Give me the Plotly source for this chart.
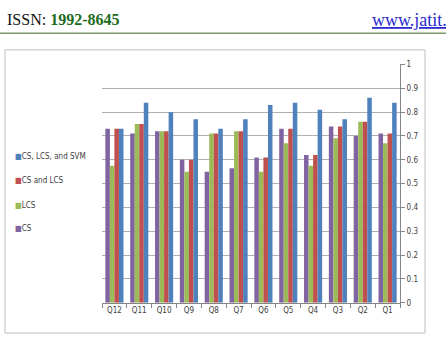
import plotly.graph_objects as go

categories = ["Q12", "Q11", "Q10", "Q9", "Q8", "Q7", "Q6", "Q5", "Q4", "Q3", "Q2", "Q1"]
cs = [0.73, 0.71, 0.72, 0.60, 0.55, 0.565, 0.61, 0.73, 0.62, 0.74, 0.70, 0.71]
lcs = [0.575, 0.75, 0.72, 0.55, 0.71, 0.72, 0.55, 0.67, 0.575, 0.69, 0.76, 0.67]
cs_lcs = [0.73, 0.75, 0.72, 0.60, 0.71, 0.72, 0.61, 0.73, 0.62, 0.74, 0.76, 0.71]
cs_lcs_svm = [0.73, 0.84, 0.80, 0.77, 0.73, 0.77, 0.83, 0.84, 0.81, 0.77, 0.86, 0.84]
y_ticks = [0, 0.1, 0.2, 0.3, 0.4, 0.5, 0.6, 0.7, 0.8, 0.9, 1]

series = [
    ("CS", cs, "#8064A2"),
    ("LCS", lcs, "#9BBB59"),
    ("CS and LCS", cs_lcs, "#C0504D"),
    ("CS, LCS, and SVM", cs_lcs_svm, "#4F81BD"),
]

W, H = 446, 340
font_narrow = "DejaVu Sans Condensed, Liberation Sans Narrow, Arial Narrow, sans-serif"

fig = go.Figure()
for name, vals, col in series:
    fig.add_trace(go.Bar(x=categories, y=vals, name=name,
                         marker=dict(color=col, line=dict(width=0))))

def px_x(p):
    return p / W

def px_y(p):
    return 1 - p / H

ymax = 1.004
top_px = 307 - (307 - 63) * ymax

# legend drawn as text entries (top entry = last series)
legend_y_px = [157, 182, 207, 231]
annotations = []
for (name, vals, col), ypx in zip(reversed(series), legend_y_px):
    annotations.append(dict(
        xref="paper", yref="paper", x=px_x(13), y=px_y(ypx), xanchor="left", yanchor="middle",
        text="<span style='color:%s'>■</span>%s" % (col, name), showarrow=False,
        font=dict(family=font_narrow, size=8, color="#404040")))

annotations += [
    dict(xref="paper", yref="paper", x=px_x(5), y=px_y(17), xanchor="left", yanchor="middle",
         text="ISSN: <b><span style='color:#1E6B1E'>1992-8645</span></b>", showarrow=False,
         font=dict(family="Liberation Serif, Times New Roman, serif", size=16, color="#111111")),
    dict(xref="paper", yref="paper", x=px_x(370), y=px_y(17), xanchor="left", yanchor="middle",
         text="<u>www.jatit.</u>", showarrow=False,
         font=dict(family="Liberation Serif, Times New Roman, serif", size=18, color="#2A2ACF")),
]

fig.update_layout(
    width=W, height=H,
    margin=dict(l=0, r=0, t=0, b=0),
    paper_bgcolor="white", plot_bgcolor="white",
    barmode="group", bargap=0.27, bargroupgap=0,
    font=dict(family=font_narrow, size=8, color="#404040"),
    showlegend=False,
    xaxis=dict(
        domain=[px_x(102), px_x(400)],
        categoryorder="array", categoryarray=categories,
        ticks="outside", tickson="boundaries", ticklen=4, tickcolor="#868686",
        showline=True, linecolor="#868686", linewidth=1,
        showgrid=False, tickangle=0,
        tickfont=dict(size=8, family=font_narrow, color="#404040"),
        anchor="y",
    ),
    yaxis=dict(
        domain=[px_y(307), px_y(top_px)],
        range=[0, ymax], side="right",
        tickvals=y_ticks, ticktext=[("%g" % v) for v in y_ticks],
        ticks="outside", ticklen=4, tickcolor="#868686",
        showline=True, linecolor="#868686", linewidth=1,
        showgrid=True, gridcolor="#B0B0B0", gridwidth=1,
        zeroline=False,
        tickfont=dict(size=8, family=font_narrow, color="#404040"),
    ),
    shapes=[
        dict(type="rect", xref="paper", yref="paper",
             x0=px_x(5), x1=px_x(425), y0=px_y(338), y1=px_y(48),
             line=dict(color="#BFBFBF", width=1), fillcolor="rgba(0,0,0,0)", layer="below"),
        dict(type="line", xref="paper", yref="paper",
             x0=0, x1=1, y0=px_y(31), y1=px_y(31),
             line=dict(color="#7A9A6A", width=1.5)),
    ],
    annotations=annotations,
)

fig.write_html("out.html")
